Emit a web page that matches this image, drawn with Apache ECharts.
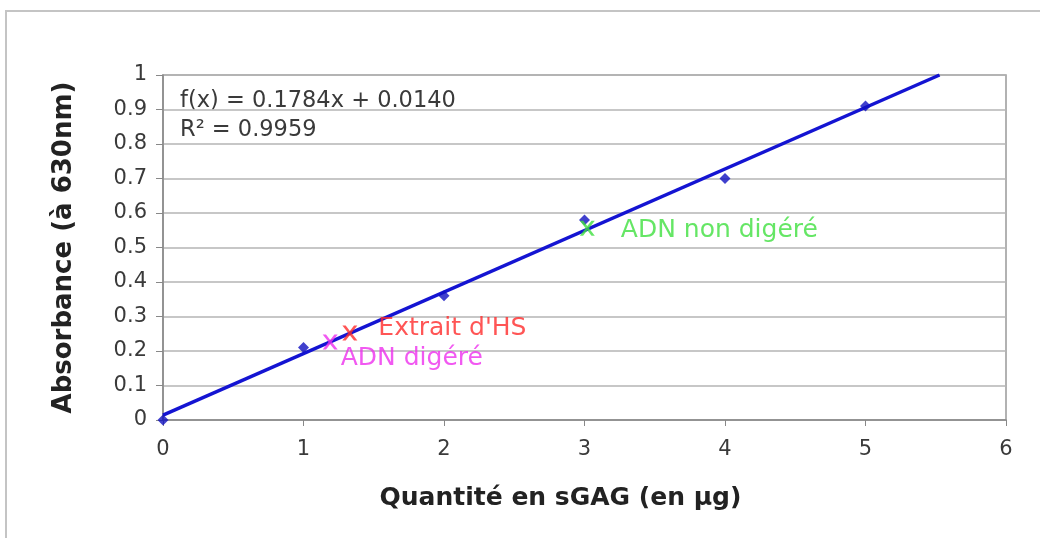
<!DOCTYPE html>
<html lang="fr">
<head>
  <meta charset="UTF-8">
  <title>Courbe étalon sGAG</title>
  <style>
    html, body { margin: 0; padding: 0; background: #fff; }
  </style>
</head>
<body>
  <div id="main" style="width: 1040px; height: 538px"></div>

  <script src="https://cdn.jsdelivr.net/npm/echarts@6/dist/echarts.min.js"></script>
  <script>
    // gamme étalon : quantité de sGAG (µg) -> absorbance
    var standardX = [0, 1, 2, 3, 4, 5];
    var standardY = [0, 0.21, 0.36, 0.58, 0.70, 0.91];

    // droite de régression (extrémités)
    var trendLine = [[0, 0.014], [5.527, 1.0]];
    var equationText = ['f(x) = 0.1784x + 0.0140', 'R² = 0.9959'];

    // échantillons placés sur la droite
    var sampleNames = ['Extrait d\'HS', 'ADN digéré', 'ADN non digéré'];
    var sampleX = [1.33, 1.19, 3.02];
    var sampleY = [0.252, 0.226, 0.556];

    var xTicks = [0, 1, 2, 3, 4, 5, 6];
    var yTicks = [0, 0.1, 0.2, 0.3, 0.4, 0.5, 0.6, 0.7, 0.8, 0.9, 1];

    var FONT = 'DejaVu Sans';
    var X_PATH = 'path://M0,0 L2.2,0 L5,3.6 L7.8,0 L10,0 L6.1,5 L10,10 L7.8,10 L5,6.4 L2.2,10 L0,10 L3.9,5 Z';

    function sample(i, color, offset) {
      return {
        type: 'scatter',
        name: sampleNames[i],
        symbol: X_PATH,
        symbolSize: 15,
        z: 5,
        itemStyle: { color: color },
        label: {
          show: true,
          position: 'right',
          offset: offset,
          formatter: sampleNames[i],
          color: color,
          fontFamily: FONT,
          fontSize: 25
        },
        data: [[sampleX[i], sampleY[i]]]
      };
    }

    var myChart = echarts.init(document.getElementById('main'));

    var option = {
      animation: false,
      backgroundColor: '#fff',
      grid: {
        left: 163,
        right: 34,
        top: 75,
        bottom: 118,
        show: true,
        borderColor: '#999',
        borderWidth: 1.5
      },
      graphic: [
        {
          type: 'rect',
          shape: { x: 6, y: 11, width: 1100, height: 600 },
          style: { fill: 'none', stroke: '#c4c4c4', lineWidth: 2 },
          silent: true
        },
        {
          type: 'text',
          left: 180,
          top: 87,
          style: {
            text: equationText.join('\n'),
            font: '22.5px "' + FONT + '"',
            lineHeight: 29,
            fill: '#3a3a3a'
          }
        }
      ],
      xAxis: {
        type: 'value',
        min: xTicks[0],
        max: xTicks[xTicks.length - 1],
        interval: 1,
        name: 'Quantité en sGAG (en µg)',
        nameLocation: 'middle',
        nameGap: 66,
        nameTextStyle: {
          fontFamily: FONT, fontWeight: 'bold', fontSize: 25, color: '#222',
          padding: [0, 48, 0, 0]
        },
        axisLine: { lineStyle: { color: '#888', width: 1.5 } },
        axisTick: { show: true, length: 6, lineStyle: { color: '#888' } },
        axisLabel: { margin: 19, fontFamily: FONT, fontSize: 21, color: '#3a3a3a' },
        splitLine: { show: false }
      },
      yAxis: {
        type: 'value',
        min: yTicks[0],
        max: yTicks[yTicks.length - 1],
        interval: 0.1,
        name: 'Absorbance (à 630nm)',
        nameLocation: 'middle',
        nameGap: 86,
        nameTextStyle: { fontFamily: FONT, fontWeight: 'bold', fontSize: 26, color: '#222' },
        axisLine: { show: true, lineStyle: { color: '#888', width: 1.5 } },
        axisTick: { show: true, length: 7, lineStyle: { color: '#888' } },
        axisLabel: {
          margin: 16,
          fontFamily: FONT,
          fontSize: 21,
          color: '#3a3a3a',
          formatter: function (v) { return String(Math.round(v * 10) / 10); }
        },
        splitLine: { show: true, lineStyle: { color: '#b5b5b5', width: 1.5 } }
      },
      series: [
        {
          type: 'line',
          name: 'régression',
          data: trendLine,
          symbol: 'none',
          z: 3,
          lineStyle: { color: '#1414d2', width: 3.5 }
        },
        {
          type: 'scatter',
          name: 'étalon',
          symbol: 'diamond',
          symbolSize: 11,
          z: 4,
          itemStyle: { color: '#1010c0' },
          data: standardX.map(function (x, i) { return [x, standardY[i]]; })
        },
        sample(0, '#ff2a2a', [16, -5]),
        sample(1, '#ee30ee', [-2, 16]),
        sample(2, '#3fe03f', [21, 2])
      ]
    };

    myChart.setOption(option);
  </script>
</body>
</html>
